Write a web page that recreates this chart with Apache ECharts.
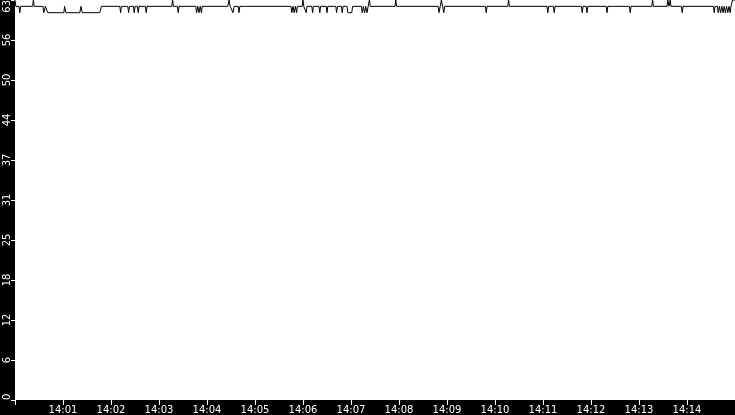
<!DOCTYPE html>
<html>
<head>
<meta charset="utf-8">
<script src="https://cdn.jsdelivr.net/npm/echarts@6/dist/echarts.min.js"></script>
<style>
html,body{margin:0;padding:0;background:#000;}
#c{width:735px;height:415px;}
</style>
</head>
<body>
<div id="c"></div>
<script>
// seconds after 14:00:00
const times = [
  0, 1,
  5, 6, 7,
  22, 23, 24,
  35, 36, 38, 41,
  61, 62, 63.5,
  81, 82.5, 84,
  106, 108,
  131, 132, 133,
  141, 142, 143,
  148, 149, 150,
  153, 154, 155,
  163, 164, 165,
  196, 197, 198,
  203, 204, 205,
  226, 227, 228.5, 230, 231.5, 233, 234,
  266, 267.5, 269,
  271, 272.5, 274,
  279, 280, 281,
  345, 346, 347.5, 349, 350.5, 352, 353,
  359, 360, 361,
  363, 364, 365,
  371, 372, 373,
  380, 381, 382,
  389, 390, 391,
  401, 402, 403,
  408, 409, 410,
  415, 416, 421, 422,
  433, 434, 435.5, 437, 438.5, 440, 441.5, 443, 444,
  475, 476, 477,
  529, 530, 531.5, 533, 534.5, 536, 537,
  588, 589, 590,
  616, 617, 618,
  665, 666, 667,
  673, 674, 675,
  708, 709, 710,
  714, 715, 716,
  739, 740, 741,
  768, 769, 770,
  796, 797, 798,
  815, 816, 817.5, 819, 820,
  833, 834, 835,
  873, 874, 875,
  878, 879, 880.5, 882, 883.5, 885, 886.5, 888, 889.5, 891, 892.5, 894, 895,
  897, 900
];
const values = [
  63, 62,
  62, 61, 62,
  62, 63, 62,
  62, 61, 62, 61,
  61, 62, 61,
  61, 62, 61,
  61, 62,
  62, 61, 62,
  62, 61, 62,
  62, 61, 62,
  62, 61, 62,
  62, 61, 62,
  62, 63, 62,
  62, 61, 62,
  62, 61, 62, 61, 62, 61, 62,
  62, 63, 62,
  62, 61, 62,
  62, 61, 62,
  62, 61, 62, 61, 62, 61, 62,
  62, 63, 62,
  62, 61, 62,
  62, 61, 62,
  62, 61, 62,
  62, 61, 62,
  62, 61, 62,
  62, 61, 62,
  62, 61, 61, 62,
  62, 61, 62, 61, 62, 61, 62, 63, 62,
  62, 63, 62,
  62, 61, 62, 63, 62, 61, 62,
  62, 61, 62,
  62, 63, 62,
  62, 61, 62,
  62, 61, 62,
  62, 61, 62,
  62, 61, 62,
  62, 61, 62,
  62, 61, 62,
  62, 63, 62,
  62, 63, 62, 63, 62,
  62, 61, 62,
  62, 61, 62,
  62, 61, 62, 61, 62, 61, 62, 61, 62, 61, 62, 61, 62,
  63, 63
];
const xTickLabels = ['14:01','14:02','14:03','14:04','14:05','14:06','14:07','14:08','14:09','14:10','14:11','14:12','14:13','14:14'];
const yTickLabels = ['0','6','12','18','25','31','37','44','50','56','63'];

const chart = echarts.init(document.getElementById('c'), null, {renderer: 'canvas'});
chart.setOption({
  backgroundColor: '#000',
  animation: false,
  grid: {
    left: 15, right: 0, top: 0, bottom: 15,
    containLabel: false, outerBoundsMode: 'none',
    show: true, backgroundColor: '#fff', borderWidth: 0
  },
  xAxis: {
    type: 'value', min: 0, max: 900, interval: 60,
    axisLine: {show: false},
    splitLine: {show: false},
    axisTick: {show: true, length: 5, lineStyle: {color: '#fff', width: 1}},
    axisLabel: {
      color: '#fff', fontFamily: 'DejaVu Sans', fontSize: 10, margin: 5,
      formatter: function (v) {
        const i = Math.round(v / 60);
        return (i >= 1 && i <= xTickLabels.length) ? xTickLabels[i - 1] : '';
      }
    }
  },
  yAxis: {
    type: 'value', min: 0, max: 63, interval: 6.3,
    axisLine: {show: false},
    splitLine: {show: false},
    axisTick: {show: true, length: 4, lineStyle: {color: '#fff', width: 1}},
    axisLabel: {
      rotate: 90, color: '#fff', fontFamily: 'DejaVu Sans', fontSize: 10, margin: 3,
      alignMinLabel: 'left', alignMaxLabel: 'right',
      formatter: function (v) { return yTickLabels[Math.round(v / 6.3)]; }
    }
  },
  series: [{
    type: 'line',
    data: times.map(function (t, i) { return [t, values[i]]; }),
    showSymbol: false,
    clip: false,
    lineStyle: {color: '#000', width: 1}
  }]
});
</script>
</body>
</html>
